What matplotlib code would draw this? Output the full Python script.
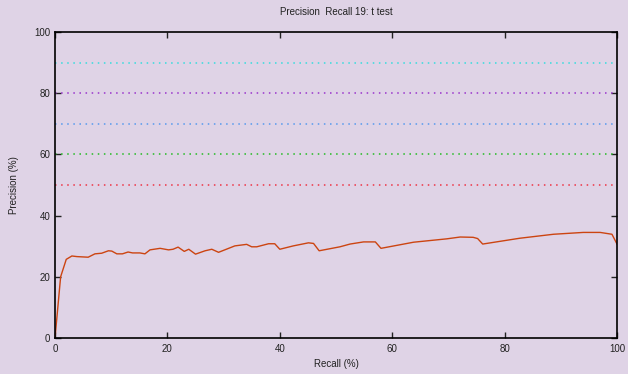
import matplotlib
matplotlib.use("Agg")
import matplotlib.pyplot as plt

# precision/recall curve for run 19 (t test)
recall = [0, 1, 2, 3, 3.9, 5.9, 7.1, 8.3, 9.5, 10.1, 11, 12, 13, 13.8, 15.1, 16,
          16.9, 18.7, 20.2, 21, 21.9, 23, 23.8, 25, 26.7, 27.9, 29.1, 32, 34.1,
          35, 35.9, 38, 39.1, 40, 42.4, 45.1, 46, 47, 50.7, 52.5, 54.9, 57, 58,
          63.8, 69.7, 72.1, 74.4, 75.2, 76.1, 82.7, 88.7, 94, 97, 99.1, 100]
precision = [0, 20, 25.7, 26.8, 26.6, 26.4, 27.5, 27.7, 28.5, 28.4, 27.5, 27.5,
             28.1, 27.8, 27.8, 27.5, 28.8, 29.3, 28.8, 29, 29.7, 28.3, 29, 27.4,
             28.5, 29, 28, 30.1, 30.6, 29.8, 29.8, 30.8, 30.8, 29, 30.1, 31.1,
             30.9, 28.5, 29.8, 30.7, 31.4, 31.4, 29.3, 31.3, 32.4, 33.0, 32.9,
             32.5, 30.7, 32.6, 33.9, 34.5, 34.5, 33.9, 30.7]

# reference levels drawn as dotted lines
ref_levels = [90, 80, 70, 60, 50]
ref_colors = ["#33dddd", "#9933cc", "#5599ee", "#22bb22", "#ee3344"]

bg = "#dfd3e6"
plt.rcParams["font.family"] = ["Liberation Sans", "DejaVu Sans"]

fig = plt.figure(figsize=(6.28, 3.74), dpi=100, facecolor=bg)
ax = fig.add_axes([0.0876, 0.0963, 0.8949, 0.8181], facecolor=bg)

for lvl, c in zip(ref_levels, ref_colors):
    ax.plot([0, 100], [lvl, lvl], color=c, linestyle=(0, (1, 3)), linewidth=1.1)

ax.plot(recall, precision, color="#cc4411", linewidth=1.0)

ax.set_xlim(0, 100)
ax.set_ylim(0, 100)
ax.set_xticks([0, 20, 40, 60, 80, 100])
ax.set_yticks([0, 20, 40, 60, 80, 100])
ax.tick_params(direction="in", length=4, width=1, labelsize=7, colors="#222222",
               top=True, right=True)
ax.tick_params(axis="x", pad=4)
for s in ax.spines.values():
    s.set_color("black")
    s.set_linewidth(1.2)

ax.set_xlabel("Recall (%)", fontsize=7, color="#222222", labelpad=4)
ax.set_ylabel("Precision (%)", fontsize=7, color="#222222", labelpad=11)
ax.set_title("Precision  Recall 19: t test", fontsize=7, color="#222222", pad=12)

fig.savefig("out.png", dpi=100, facecolor=bg)
